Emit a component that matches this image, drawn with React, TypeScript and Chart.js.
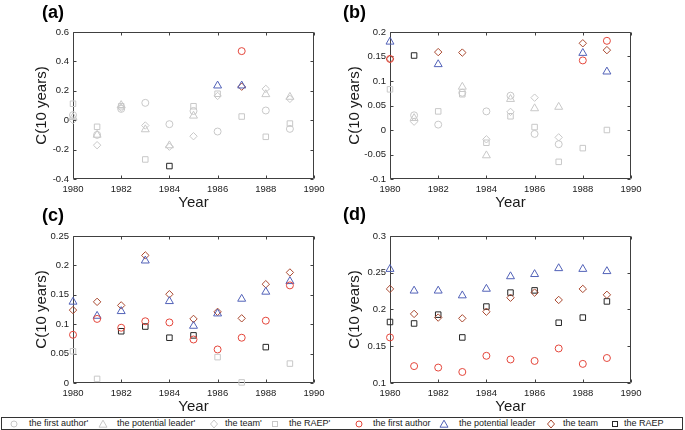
import React, { useEffect, useRef } from 'react';
import { Chart, registerables } from 'chart.js';

Chart.register(...registerables);

const FONT = "'Liberation Sans', Arial, Helvetica, sans-serif";
const AXIS_COLOR = '#404040';
const TEXT_COLOR = '#1a1a1a';
const GRAY = '#c8c8c8';
const RED = '#e4463b';
const BLUE = '#5262b8';
const BROWN = '#a9482f';
const BLACK = '#262626';

const years = [1980, 1981, 1982, 1983, 1984, 1985, 1986, 1987, 1988, 1989];

// Panel (a)
const aFirst = [0.035, -0.1, 0.077, 0.118, -0.027, 0.063, -0.077, 0.47, 0.066, -0.059];
const aFirstSig = [0, 0, 0, 0, 0, 0, 0, 1, 0, 0];
const aLeader = [0.02, -0.1, 0.102, -0.063, -0.172, 0.03, 0.235, 0.235, 0.176, 0.158];
const aLeaderSig = [0, 0, 0, 0, 0, 0, 1, 1, 0, 0];
const aTeam = [0.0, -0.17, 0.085, -0.036, -0.18, -0.109, 0.165, 0.228, 0.213, 0.145];
const aTeamSig = [0, 0, 0, 0, 0, 0, 0, 1, 0, 0];
const aRaep = [0.112, -0.045, 0.095, -0.267, -0.312, 0.095, 0.18, 0.025, -0.113, -0.023];
const aRaepSig = [0, 0, 0, 0, 1, 0, 0, 0, 0, 0];

// Panel (b)
const bFirst = [0.145, 0.03, 0.011, 0.076, 0.038, 0.07, -0.008, -0.029, 0.142, 0.182];
const bFirstSig = [1, 0, 0, 0, 0, 0, 0, 0, 1, 1];
const bLeader = [0.18, 0.024, 0.134, 0.088, -0.052, 0.063, 0.044, 0.047, 0.157, 0.119];
const bLeaderSig = [1, 0, 1, 0, 0, 0, 0, 0, 1, 1];
const bTeam = [0.145, 0.017, 0.159, 0.158, -0.019, 0.037, 0.066, -0.015, 0.177, 0.163];
const bTeamSig = [1, 0, 1, 1, 0, 0, 0, 0, 1, 1];
const bRaep = [0.083, 0.152, 0.038, 0.073, -0.026, 0.028, 0.006, -0.065, -0.037, 0.0];
const bRaepSig = [0, 1, 0, 0, 0, 0, 0, 0, 0, 0];

// Panel (c)
const cFirst = [0.082, 0.109, 0.094, 0.105, 0.103, 0.074, 0.057, 0.077, 0.106, 0.166];
const cFirstSig = [1, 1, 1, 1, 1, 1, 1, 1, 1, 1];
const cLeader = [0.138, 0.114, 0.122, 0.208, 0.139, 0.097, 0.118, 0.143, 0.155, 0.173];
const cLeaderSig = [1, 1, 1, 1, 1, 1, 1, 1, 1, 1];
const cTeam = [0.124, 0.138, 0.132, 0.217, 0.151, 0.109, 0.121, 0.11, 0.168, 0.188];
const cTeamSig = [1, 1, 1, 1, 1, 1, 1, 1, 1, 1];
const cRaep = [0.054, 0.007, 0.088, 0.096, 0.077, 0.081, 0.044, 0.001, 0.061, 0.033];
const cRaepSig = [0, 0, 1, 1, 1, 1, 0, 0, 1, 0];

// Panel (d)
const dFirst = [0.162, 0.123, 0.121, 0.115, 0.137, 0.132, 0.13, 0.147, 0.126, 0.134];
const dFirstSig = [1, 1, 1, 1, 1, 1, 1, 1, 1, 1];
const dLeader = [0.255, 0.2255, 0.2255, 0.219, 0.228, 0.245, 0.248, 0.256, 0.255, 0.252];
const dLeaderSig = [1, 1, 1, 1, 1, 1, 1, 1, 1, 1];
const dTeam = [0.228, 0.194, 0.189, 0.188, 0.197, 0.216, 0.223, 0.213, 0.228, 0.22];
const dTeamSig = [1, 1, 1, 1, 1, 1, 1, 1, 1, 1];
const dRaep = [0.183, 0.181, 0.193, 0.162, 0.204, 0.223, 0.226, 0.182, 0.189, 0.211];
const dRaepSig = [1, 1, 1, 1, 1, 1, 1, 1, 1, 1];

const seriesNames = ['the first author', 'the potential leader', 'the team', 'the RAEP'];
const seriesColors = [RED, BLUE, BROWN, BLACK];
const seriesStyles = ['circle', 'triangle', 'rectRot', 'rect'];
const seriesRadius = [3.5, 4.6, 3.7, 3.9];

type Panel = {
  label: string;
  series: number[][];
  sig: number[][];
  yMin: number;
  yMax: number;
  yStep: number;
  left: number;
  top: number;
  width: number;
  height: number;
  yWidth: number;
  padRight: number;
  yTitlePad: number;
  labelLeft: number;
  labelTop: number;
};

const panels: Panel[] = [
  {
    label: '(a)', series: [aFirst, aLeader, aTeam, aRaep], sig: [aFirstSig, aLeaderSig, aTeamSig, aRaepSig],
    yMin: -0.4, yMax: 0.6, yStep: 0.2,
    left: 0, top: 0, width: 340, height: 215, yWidth: 73, padRight: 26, yTitlePad: 33, labelLeft: 42, labelTop: 3,
  },
  {
    label: '(b)', series: [bFirst, bLeader, bTeam, bRaep], sig: [bFirstSig, bLeaderSig, bTeamSig, bRaepSig],
    yMin: -0.1, yMax: 0.2, yStep: 0.05,
    left: 340, top: 0, width: 345, height: 215, yWidth: 50, padRight: 54, yTitlePad: 6, labelLeft: 343, labelTop: 3,
  },
  {
    label: '(c)', series: [cFirst, cLeader, cTeam, cRaep], sig: [cFirstSig, cLeaderSig, cTeamSig, cRaepSig],
    yMin: 0, yMax: 0.25, yStep: 0.05,
    left: 0, top: 204, width: 340, height: 215, yWidth: 73, padRight: 26, yTitlePad: 33, labelLeft: 42, labelTop: 206,
  },
  {
    label: '(d)', series: [dFirst, dLeader, dTeam, dRaep], sig: [dFirstSig, dLeaderSig, dTeamSig, dRaepSig],
    yMin: 0.1, yMax: 0.3, yStep: 0.05,
    left: 340, top: 204, width: 345, height: 215, yWidth: 50, padRight: 54, yTitlePad: 6, labelLeft: 343, labelTop: 205,
  },
];

const legendItems = [
  { text: "the first author'", color: GRAY, shape: 'circle', mx: 13, tx: 28 },
  { text: "the potential leader'", color: GRAY, shape: 'triangle', mx: 102, tx: 116 },
  { text: "the team'", color: GRAY, shape: 'diamond', mx: 213, tx: 224 },
  { text: "the RAEP'", color: GRAY, shape: 'square', mx: 274, tx: 288 },
  { text: 'the first author', color: RED, shape: 'circle', mx: 358, tx: 372 },
  { text: 'the potential leader', color: BLUE, shape: 'triangle', mx: 443, tx: 458 },
  { text: 'the team', color: BROWN, shape: 'diamond', mx: 550, tx: 562 },
  { text: 'the RAEP', color: BLACK, shape: 'square', mx: 614, tx: 623 },
];

const boxTicksPlugin = {
  id: 'boxTicks',
  beforeDatasetsDraw(chart: any) {
    const { ctx, chartArea, scales } = chart;
    const L = Math.round(chartArea.left) + 0.5;
    const R = Math.round(chartArea.right) - 0.5;
    const T = Math.round(chartArea.top) + 0.5;
    const B = Math.round(chartArea.bottom) - 0.5;
    ctx.save();
    ctx.strokeStyle = AXIS_COLOR;
    ctx.lineWidth = 1;
    ctx.beginPath();
    ctx.rect(L, T, R - L, B - T);
    const len = 3;
    scales.x.ticks.forEach((t: any) => {
      const px = Math.round(scales.x.getPixelForValue(t.value)) + 0.5;
      ctx.moveTo(px, B);
      ctx.lineTo(px, B - len);
      ctx.moveTo(px, T);
      ctx.lineTo(px, T + len);
    });
    scales.y.ticks.forEach((t: any) => {
      const py = Math.round(scales.y.getPixelForValue(t.value)) + 0.5;
      ctx.moveTo(L, py);
      ctx.lineTo(L + len, py);
      ctx.moveTo(R, py);
      ctx.lineTo(R - len, py);
    });
    ctx.stroke();
    ctx.restore();
  },
};

const fmt = (v: any) => {
  const n = parseFloat(Number(v).toFixed(4));
  return String(Object.is(n, -0) ? 0 : n);
};

function buildConfig(p: Panel): any {
  const datasets: any[] = [];
  [false, true].forEach((wantSig) => {
    p.series.forEach((vals, si) => {
      const pts = years
        .map((x, i) => ({ x, y: vals[i], s: p.sig[si][i] === 1 }))
        .filter((d) => d.s === wantSig)
        .map((d) => ({ x: d.x, y: d.y }));
      const color = wantSig ? seriesColors[si] : GRAY;
      datasets.push({
        label: seriesNames[si] + (wantSig ? '' : "'"),
        data: pts,
        showLine: false,
        pointStyle: seriesStyles[si],
        pointRadius: seriesRadius[si],
        pointBorderWidth: 1,
        pointBorderColor: color,
        pointBackgroundColor: 'rgba(0,0,0,0)',
        borderColor: color,
        backgroundColor: 'rgba(0,0,0,0)',
        clip: false,
      });
    });
  });

  return {
    type: 'scatter',
    data: { datasets },
    options: {
      animation: false,
      responsive: false,
      maintainAspectRatio: false,
      events: [],
      layout: { padding: { left: 0, right: p.padRight, top: 32, bottom: 0 } },
      plugins: { legend: { display: false }, tooltip: { enabled: false }, title: { display: false } },
      scales: {
        x: {
          type: 'linear',
          min: 1980,
          max: 1990,
          ticks: { stepSize: 2, padding: 5, color: TEXT_COLOR, font: { family: FONT, size: 9.5 }, callback: (v: any) => String(v), maxRotation: 0 },
          grid: { display: false, drawTicks: false },
          border: { display: false },
          title: { display: true, text: 'Year', color: TEXT_COLOR, font: { family: FONT, size: 15 }, padding: { top: 0, bottom: 3 } },
          afterFit: (s: any) => { s.height = 36; },
        },
        y: {
          type: 'linear',
          min: p.yMin,
          max: p.yMax,
          ticks: { stepSize: p.yStep, padding: 4, color: TEXT_COLOR, font: { family: FONT, size: 9.5 }, callback: fmt },
          grid: { display: false, drawTicks: false },
          border: { display: false },
          title: { display: true, text: 'C(10 years)', color: TEXT_COLOR, font: { family: FONT, size: 15 }, padding: { top: p.yTitlePad, bottom: 0 } },
          afterFit: (s: any) => { s.width = p.yWidth; },
        },
      },
    },
    plugins: [boxTicksPlugin],
  };
}

function PanelChart({ p }: { p: Panel }) {
  const ref = useRef<HTMLCanvasElement | null>(null);
  useEffect(() => {
    if (!ref.current) return;
    const chart = new Chart(ref.current, buildConfig(p));
    return () => chart.destroy();
  }, [p]);
  return (
    <canvas
      ref={ref}
      width={p.width}
      height={p.height}
      style={{ position: 'absolute', left: p.left, top: p.top, width: p.width, height: p.height, display: 'block' }}
    />
  );
}

function Marker({ shape, color }: { shape: string; color: string }) {
  const c = 5;
  let el: any;
  if (shape === 'circle') el = <circle cx={c} cy={c} r={3} fill="none" stroke={color} strokeWidth={1} />;
  else if (shape === 'triangle') el = <polygon points="5,1.2 9,8.2 1,8.2" fill="none" stroke={color} strokeWidth={1} />;
  else if (shape === 'diamond') el = <polygon points="5,1 8.5,5 5,9 1.5,5" fill="none" stroke={color} strokeWidth={1} />;
  else el = <rect x={2.5} y={2.5} width={5} height={5} fill="none" stroke={color} strokeWidth={1} />;
  return (
    <svg width={10} height={10} style={{ display: 'block' }}>
      {el}
    </svg>
  );
}

export default function App() {
  return (
    <div style={{ position: 'fixed', left: 0, top: 0, width: 685, height: 430, background: '#fff', overflow: 'hidden', fontFamily: FONT }}>
      {panels.map((p) => (
        <PanelChart key={p.label} p={p} />
      ))}
      {panels.map((p) => (
        <div
          key={p.label + '-lbl'}
          style={{ position: 'absolute', left: p.labelLeft, top: p.labelTop, fontSize: 18, fontWeight: 'bold', lineHeight: '18px', color: '#000', fontFamily: FONT }}
        >
          {p.label}
        </div>
      ))}
      <div style={{ position: 'absolute', left: 1, top: 417, width: 680, height: 11, border: '1px solid #333', background: '#fff' }}>
        {legendItems.map((it) => (
          <React.Fragment key={it.text}>
            <div style={{ position: 'absolute', left: it.mx - 1 - 5, top: 0.5 }}>
              <Marker shape={it.shape} color={it.color} />
            </div>
            <div style={{ position: 'absolute', left: it.tx - 1, top: 0, fontSize: 9, lineHeight: '11px', color: TEXT_COLOR, whiteSpace: 'nowrap' }}>
              {it.text}
            </div>
          </React.Fragment>
        ))}
      </div>
    </div>
  );
}
